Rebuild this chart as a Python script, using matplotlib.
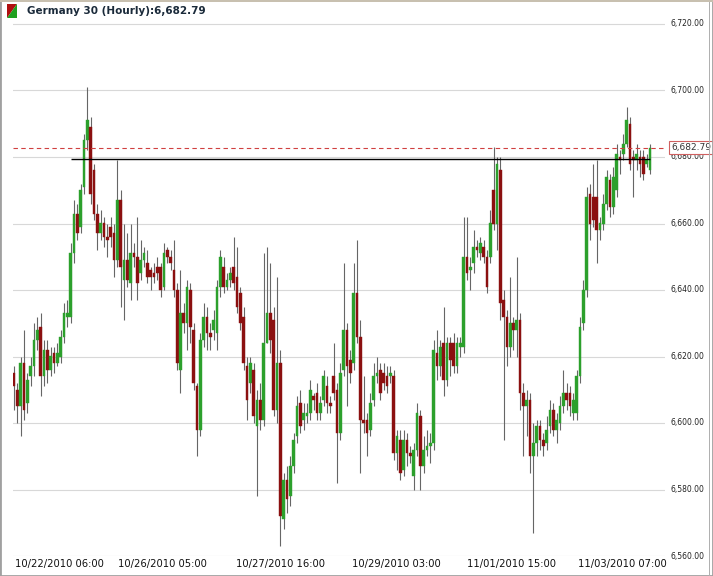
import matplotlib
matplotlib.use("Agg")
import matplotlib.pyplot as plt
from matplotlib.patches import Rectangle, Polygon
import numpy as np

opens = [6615,6610,6605,6618,6606,6614,6617,6625,6629,6614,6622,6616,6621,6618,6620,6626,6632,6632,6651,6663,
 6659,6671,6685,6689,6676,6663,6657,6660,6656,6659,6657,6649,6667,6643,6649,6642,6651,6650,6645,6649,
 6648,6646,6645,6647,6647,6641,6652,6650,6646,6640,6616,6633,6630,6640,6628,6611,6598,6625,6632,6627,
 6628,6627,6641,6647,6641,6643,6647,6644,6639,6632,6617,6612,6616,6599,6607,6601,6624,6633,6631,6604,
 6618,6571,6583,6578,6587,6596,6606,6601,6602,6603,6608,6609,6603,6607,6611,6606,6614,6610,6597,6616,
 6628,6619,6618,6639,6626,6601,6601,6598,6607,6614,6616,6615,6614,6614,6614,6591,6595,6586,6595,6591,
 6584,6592,6602,6587,6592,6593,6594,6621,6617,6624,6613,6624,6624,6617,6623,6623,6650,6646,6648,6653,
 6651,6653,6650,6650,6670,6660,6676,6637,6632,6623,6630,6628,6631,6609,6605,6607,6590,6594,6599,6595,
 6594,6599,6604,6598,6600,6605,6609,6609,6603,6603,6614,6630,6640,6669,6668,6668,6658,6660,6666,6673,
 6665,6670,6680,6681,6684,6690,6680,6679,6680,6680,6678,6676]
closes = [6611,6605,6618,6604,6613,6617,6625,6628,6614,6622,6616,6620,6618,6621,6626,6633,6633,6651,6663,6657,
 6670,6685,6691,6669,6663,6657,6660,6656,6655,6656,6649,6667,6647,6649,6643,6651,6650,6642,6649,6651,
 6644,6644,6644,6645,6640,6651,6650,6648,6640,6618,6633,6630,6641,6629,6612,6598,6625,6632,6627,6626,
 6631,6641,6650,6641,6643,6645,6642,6635,6630,6618,6607,6618,6602,6607,6601,6624,6633,6625,6604,6618,
 6572,6583,6577,6587,6595,6605,6599,6603,6603,6610,6607,6603,6606,6614,6606,6605,6609,6597,6615,6628,
 6617,6615,6639,6626,6601,6600,6597,6606,6614,6615,6609,6612,6611,6615,6591,6596,6585,6595,6591,6590,
 6592,6603,6587,6592,6593,6594,6622,6617,6623,6613,6624,6619,6617,6624,6624,6650,6645,6647,6653,6652,
 6654,6650,6641,6660,6660,6678,6636,6632,6623,6630,6628,6631,6609,6605,6607,6590,6594,6599,6595,6593,
 6598,6604,6598,6601,6605,6609,6607,6605,6607,6614,6629,6640,6668,6660,6661,6658,6660,6666,6674,6665,
 6674,6681,6679,6684,6691,6678,6679,6681,6678,6675,6679,6682.79]
highs = [6617,6612,6620,6628,6615,6620,6630,6632,6633,6625,6625,6623,6623,6624,6628,6636,6637,6654,6667,6666,
 6672,6687,6701,6692,6678,6666,6664,6662,6660,6662,6660,6679,6670,6660,6657,6660,6654,6662,6655,6653,
 6652,6647,6648,6650,6648,6654,6653,6652,6655,6642,6646,6636,6643,6642,6630,6612,6627,6636,6635,6630,
 6634,6643,6652,6650,6645,6647,6656,6653,6641,6635,6620,6620,6618,6610,6612,6651,6653,6648,6635,6644,
 6622,6585,6587,6590,6597,6608,6610,6606,6606,6613,6609,6612,6608,6616,6614,6608,6624,6612,6618,6648,
 6630,6622,6648,6655,6631,6614,6603,6609,6618,6620,6618,6618,6617,6617,6616,6598,6598,6598,6597,6593,
 6594,6606,6604,6596,6598,6597,6625,6628,6625,6635,6626,6626,6627,6626,6626,6662,6662,6650,6658,6655,
 6656,6655,6652,6664,6683,6680,6680,6640,6634,6644,6632,6650,6633,6612,6610,6609,6600,6601,6601,6597,
 6602,6607,6606,6603,6608,6616,6612,6611,6609,6616,6632,6643,6671,6672,6678,6679,6662,6669,6676,6675,
 6677,6684,6682,6687,6695,6692,6682,6684,6682,6682,6681,6684]
lows = [6604,6600,6596,6601,6603,6611,6614,6622,6608,6611,6612,6614,6615,6617,6618,6624,6629,6630,6648,6655,
 6657,6669,6682,6666,6661,6652,6655,6653,6650,6653,6644,6647,6635,6631,6641,6637,6647,6637,6643,6647,
 6642,6640,6642,6643,6638,6640,6648,6646,6638,6616,6609,6627,6622,6624,6610,6590,6596,6623,6622,6622,
 6625,6622,6638,6639,6640,6641,6640,6633,6628,6616,6601,6609,6600,6578,6598,6599,6624,6621,6602,6600,
 6563,6568,6573,6575,6585,6594,6597,6598,6600,6601,6604,6601,6601,6605,6603,6603,6607,6582,6595,6614,
 6605,6612,6616,6624,6585,6597,6590,6596,6605,6612,6607,6610,6609,6612,6589,6586,6583,6584,6587,6588,
 6580,6590,6580,6585,6590,6588,6592,6613,6614,6608,6611,6614,6615,6615,6620,6621,6643,6640,6645,6650,
 6649,6648,6639,6648,6658,6652,6631,6595,6617,6620,6622,6620,6604,6590,6596,6585,6567,6590,6592,6590,
 6592,6597,6596,6594,6598,6603,6604,6602,6601,6601,6612,6628,6638,6655,6659,6648,6655,6658,6664,6662,
 6663,6668,6675,6679,6683,6676,6668,6676,6674,6673,6677,6675]

yticks = [6560,6580,6600,6620,6640,6660,6680,6700,6720]
ytick_labels = ["6,560.00","6,580.00","6,600.00","6,620.00","6,640.00","6,660.00","6,680.00","6,700.00","6,720.00"]
date_labels = ["10/22/2010 06:00","10/26/2010 05:00","10/27/2010 16:00","10/29/2010 03:00","11/01/2010 15:00","11/03/2010 07:00"]
date_positions = [13.5, 44.7, 79.9, 114.7, 149.5, 182.6]
resistance = 6679.5
last_price = 6682.79
title = "Germany 30 (Hourly):6,682.79"

W, H = 713, 576
fig = plt.figure(figsize=(W/100, H/100), dpi=100)
fig.patch.set_facecolor("white")
ax = fig.add_axes([13/W, 1-556/H, (665-13)/W, (556-20)/H])
n = len(opens)
x = np.arange(n)
ax.set_xlim(-0.3, (665-14)/3.33)
ax.set_ylim(6560, 6720 + 4*20/66.5)

green, red = "#2ca02c", "#8b1010"
cols = [green if c >= o else red for o, c in zip(opens, closes)]
ax.vlines(x, lows, highs, color="#666666", lw=0.8, zorder=2)
bottoms = np.minimum(opens, closes)
heights = np.maximum(np.abs(np.array(closes) - np.array(opens)), 0.6)
ax.bar(x, heights, bottom=bottoms, width=0.8, color=cols, edgecolor=cols, lw=0.3, zorder=3)

for t in yticks:
    ax.axhline(t, color="#d8d8d8", lw=0.8, zorder=1)
ax.hlines(resistance, 17, n-1, color="black", lw=1.0, zorder=4)
ax.axhline(last_price, color="#d04040", lw=0.8, ls=(0, (4, 3)), zorder=4)

ax.set_yticks([])
ax.set_xticks([])
for s in ax.spines.values():
    s.set_visible(False)

ytop = ax.get_ylim()[1]
for t, lab in zip(yticks, ytick_labels):
    ax.text(1.008, (t - 6560) / (ytop - 6560), lab, transform=ax.transAxes,
            fontsize=5.5, ha="left", va="center", family="DejaVu Sans", color="#222222")
ax.text(1.01, (last_price - 6560) / (ytop - 6560), "6,682.79", transform=ax.transAxes,
        fontsize=6.5, ha="left", va="center", color="#333333",
        bbox=dict(boxstyle="square,pad=0.25", fc="white", ec="#d06060", lw=0.8))
for p, lab in zip(date_positions, date_labels):
    fig.text((14 + 3.33 * p) / W, 1 - 564/H, lab, fontsize=7.2, ha="center", va="center", color="#111111")

fig.text(27/W, 1 - 11/H, title, fontsize=7.5, fontweight="bold", ha="left", va="center", color="#1a2a3a")
fig.patches.append(Polygon([[7/W, 1-4/H], [17/W, 1-4/H], [7/W, 1-18/H]], closed=True,
                           transform=fig.transFigure, fc="#b01010", ec="none"))
fig.patches.append(Polygon([[17/W, 1-4/H], [17/W, 1-18/H], [7/W, 1-18/H]], closed=True,
                           transform=fig.transFigure, fc="#20a020", ec="none"))
fig.patches.append(Rectangle((0, 0), 1, 1, transform=fig.transFigure, fill=False, ec="#a0a0a0", lw=2))
fig.patches.append(Rectangle((709/W, 0), 0.002, 1, transform=fig.transFigure, fc="#b0b0b0", ec="none"))
fig.patches.append(Rectangle((0, 1-2/H), 1, 2/H, transform=fig.transFigure, fc="#c8c0b0", ec="none"))

fig.savefig("out.png", dpi=100)
